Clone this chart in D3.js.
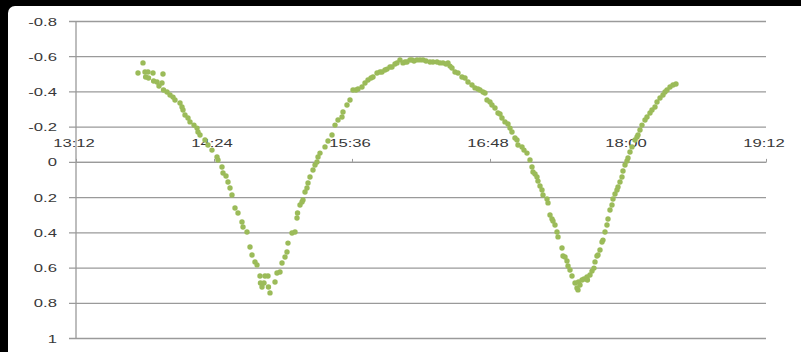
<!DOCTYPE html>
<html>
<head>
<meta charset="utf-8">
<script src="https://cdn.jsdelivr.net/npm/d3@7"></script>
<style>
  html, body { margin: 0; padding: 0; background: #000; }
  svg { display: block; }
</style>
</head>
<body>
<svg id="chart" width="801" height="352"></svg>
<script>
// Observation times (local clock) and measured values
const times = [
  "13:46:57","13:44:21","13:48:00","13:49:34","13:52:10","13:57:23","13:48:20","13:49:50","13:52:30","13:54:16",
  "13:56:52","13:55:18","13:57:40","13:59:29","14:01:03","14:02:37","14:03:39","14:06:16","14:07:18","14:07:50",
  "14:08:52","14:10:26","14:11:29","14:13:34","14:15:08","14:15:39","14:16:42","14:19:18","14:20:52","14:22:57",
  "14:25:34","14:26:05","14:28:10","14:28:42","14:30:16","14:31:18","14:32:21","14:33:23","14:34:57","14:36:31",
  "14:38:36","14:39:08","14:41:13","14:42:47","14:43:50","14:45:23","14:46:26","14:48:00","14:50:36","14:52:10",
  "14:48:15","14:50:05","14:49:03","14:52:25","14:53:13","14:55:50","14:56:52","14:58:26","14:59:29","15:01:03",
  "15:02:05","15:02:36","15:04:42","15:06:16","15:07:18","15:07:35","15:08:52","15:09:55","15:10:26","15:11:29",
  "15:12:31","15:13:03","15:14:05","15:15:39","15:16:42","15:17:44","15:18:16","15:19:18","15:21:55","15:23:29",
  "15:25:34","15:27:08","15:28:42","15:30:47","15:31:18","15:33:23","15:34:57","15:36:31","15:38:05","15:39:08",
  "15:41:13","15:42:47","15:44:21","15:45:55","15:46:57","15:49:03","15:50:36","15:51:39","15:53:13","15:54:16",
  "15:55:49","15:56:52","15:58:26","15:59:29","16:01:02","16:02:36","16:03:39","16:04:42","16:06:15","16:07:18",
  "16:08:21","16:09:55","16:11:29","16:13:02","16:14:36","16:16:42","16:18:15","16:20:21","16:21:55","16:23:29",
  "16:25:02","16:26:05","16:27:08","16:28:10","16:29:44","16:31:18","16:33:23","16:34:57","16:36:31","16:38:36",
  "16:40:10","16:41:44","16:42:47","16:44:21","16:45:23","16:46:26","16:48:00","16:49:02","16:50:36","16:52:10",
  "16:53:13","16:54:15","16:55:49","16:57:23","16:58:26","16:59:28","17:01:02","17:02:05","17:02:36","17:04:42",
  "17:05:44","17:07:18","17:08:52","17:09:55","17:10:26","17:11:29","17:12:31","17:13:02","17:14:05","17:15:08",
  "17:15:39","17:17:44","17:18:16","17:19:18","17:20:21","17:20:52","17:21:55","17:22:57","17:23:29","17:25:34",
  "17:26:05","17:27:08","17:28:10","17:28:42","17:29:44","17:30:47","17:32:21","17:33:23","17:33:55","17:34:10",
  "17:34:57","17:36:00","17:37:02","17:38:36","17:38:50","17:40:10","17:41:13","17:42:15","17:42:47","17:43:49",
  "17:44:21","17:45:23","17:46:26","17:46:57","17:48:00","17:49:02","17:49:34","17:50:36","17:51:39","17:52:10",
  "17:53:13","17:54:15","17:54:47","17:55:49","17:56:52","17:57:23","17:58:26","17:59:28","18:00:00","18:01:02",
  "18:02:05","18:03:39","18:04:42","18:05:13","18:06:15","18:07:18","18:08:52","18:09:55","18:11:28","18:12:31",
  "18:14:05","18:15:08","18:16:42","18:18:15","18:19:18","18:20:21","18:21:55","18:23:29","18:25:02"
];
const values = [
  -0.562,-0.505,-0.510,-0.510,-0.505,-0.499,-0.482,-0.476,-0.459,-0.454,
  -0.448,-0.431,-0.408,-0.397,-0.380,-0.368,-0.351,-0.334,-0.312,-0.295,
  -0.266,-0.249,-0.227,-0.209,-0.192,-0.170,-0.153,-0.124,-0.096,-0.067,
  -0.028,-0.011, 0.029, 0.063, 0.080, 0.114, 0.148, 0.188, 0.262, 0.290,
   0.341, 0.370, 0.398, 0.483, 0.529, 0.568, 0.585, 0.648, 0.648, 0.648,
   0.688, 0.688, 0.710, 0.710, 0.744, 0.682, 0.631, 0.625, 0.574, 0.540,
   0.512, 0.461, 0.404, 0.398, 0.319, 0.290, 0.245, 0.228, 0.216, 0.171,
   0.148, 0.120, 0.086, 0.046, 0.018, 0.001,-0.028,-0.050,-0.085,-0.119,
  -0.153,-0.209,-0.238,-0.255,-0.283,-0.323,-0.351,-0.408,-0.408,-0.414,
  -0.425,-0.448,-0.465,-0.476,-0.482,-0.505,-0.510,-0.510,-0.522,-0.527,
  -0.539,-0.539,-0.556,-0.562,-0.579,-0.562,-0.567,-0.567,-0.579,-0.579,
  -0.573,-0.579,-0.579,-0.579,-0.573,-0.567,-0.567,-0.567,-0.562,-0.562,
  -0.556,-0.562,-0.544,-0.533,-0.510,-0.505,-0.482,-0.476,-0.454,-0.437,
  -0.420,-0.414,-0.408,-0.397,-0.391,-0.351,-0.340,-0.323,-0.306,-0.278,
  -0.272,-0.249,-0.227,-0.215,-0.192,-0.170,-0.136,-0.124,-0.096,-0.085,
  -0.067,-0.050,-0.011, 0.029, 0.057, 0.069, 0.086, 0.109, 0.137, 0.160,
   0.188, 0.211, 0.233, 0.302, 0.324, 0.336, 0.358, 0.398, 0.426, 0.489,
   0.534, 0.540, 0.563, 0.591, 0.614, 0.648, 0.688, 0.716, 0.727, 0.682,
   0.699, 0.671, 0.665, 0.654, 0.671, 0.642, 0.620, 0.603, 0.568, 0.534,
   0.529, 0.500, 0.455, 0.444, 0.398, 0.358, 0.324, 0.273, 0.245, 0.211,
   0.182, 0.160, 0.143, 0.114, 0.086, 0.052, 0.018,-0.005,-0.022,-0.056,
  -0.085,-0.124,-0.141,-0.153,-0.181,-0.209,-0.238,-0.255,-0.278,-0.295,
  -0.312,-0.340,-0.363,-0.380,-0.397,-0.408,-0.425,-0.437,-0.442
];
const xTickLabels = ["13:12","14:24","15:36","16:48","18:00","19:12"];
const yTickValues = [-0.8,-0.6,-0.4,-0.2,0,0.2,0.4,0.6,0.8,1];

const toSec = s => { const p = s.split(":").map(Number); return p[0]*3600 + p[1]*60 + (p[2]||0); };
const points = times.map((t, i) => ({ t: toSec(t), v: values[i] }));
const xTicks = xTickLabels.map(toSec);

const svg = d3.select("#chart");

// dark surround and white chart panel
svg.append("rect").attr("width", 801).attr("height", 352).attr("fill", "#000");
svg.append("rect").attr("x", 8).attr("y", 6).attr("width", 810).attr("height", 360)
  .attr("rx", 7).attr("fill", "#fff");

const plotL = 76, plotR = 766, plotT = 21, plotB = 338;
const x = d3.scaleLinear().domain([xTicks[0], xTicks[xTicks.length-1]]).range([plotL, plotR]);
const y = d3.scaleLinear().domain([-0.8, 1]).range([plotT, plotB]);

const STRETCH = 1.45;
const textColor = "#383838";
const gridColor = "#9a9a9a";

// horizontal gridlines with short outer ticks
const yAxis = d3.axisLeft(y).tickValues(yTickValues)
  .tickSize(-(plotR - plotL)).tickSizeOuter(0).tickFormat("");
const gy = svg.append("g").attr("transform", `translate(${plotL},0)`).call(yAxis);
gy.select(".domain").remove();
gy.selectAll(".tick line").attr("stroke", gridColor).attr("stroke-width", 1.3)
  .attr("x1", -7);

// vertical value axis line
svg.append("line").attr("x1", plotL).attr("x2", plotL).attr("y1", y(-0.8)).attr("y2", y(1))
  .attr("stroke", gridColor).attr("stroke-width", 1.3);

// value labels
const fmtY = d => String(+d.toFixed(1));
svg.append("g").selectAll("text").data(yTickValues).join("text")
  .attr("transform", d => `translate(57,${y(d) + 4.5}) scale(${STRETCH},1)`)
  .attr("text-anchor", "end")
  .attr("font-family", "Liberation Sans, Arial, sans-serif")
  .attr("font-size", 11.5)
  .attr("fill", textColor)
  .text(fmtY);

// time axis crossing at zero, with small inner ticks
const xAxis = d3.axisTop(x).tickValues(xTicks).tickSize(3).tickSizeOuter(0).tickFormat("");
const gx = svg.append("g").attr("transform", `translate(0,${y(0)})`).call(xAxis);
gx.select(".domain").attr("stroke", gridColor).attr("stroke-width", 1.3);
gx.selectAll(".tick line").attr("stroke", gridColor).attr("stroke-width", 1);

// time labels sit above the zero line
svg.append("g").selectAll("text").data(xTicks).join("text")
  .attr("transform", d => `translate(${x(d) - 2},${y(0) - 15}) scale(${STRETCH},1)`)
  .attr("text-anchor", "middle")
  .attr("font-family", "Liberation Sans, Arial, sans-serif")
  .attr("font-size", 11.5)
  .attr("fill", textColor)
  .text((d, i) => xTickLabels[i]);

// observations
svg.append("g").selectAll("circle").data(points).join("circle")
  .attr("cx", d => x(d.t))
  .attr("cy", d => y(d.v))
  .attr("r", 2.7)
  .attr("fill", "#9bbb59");
</script>
</body>
</html>
